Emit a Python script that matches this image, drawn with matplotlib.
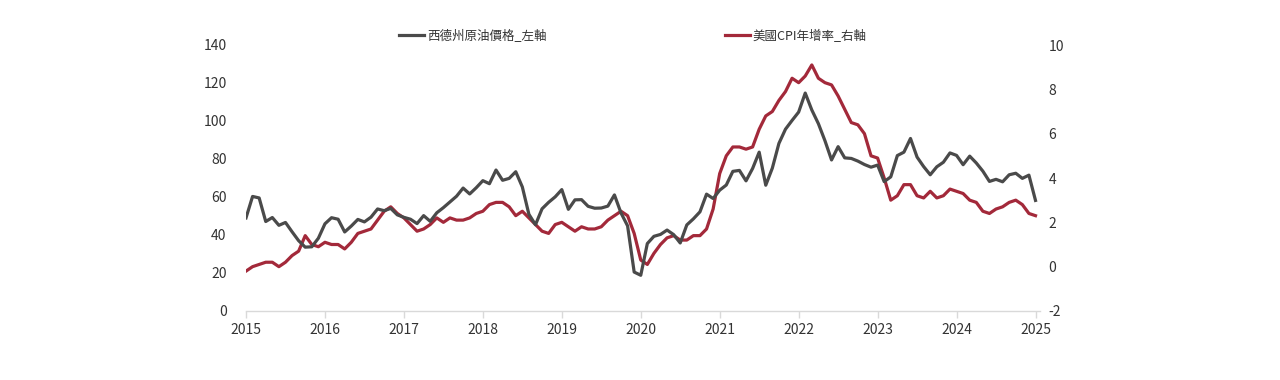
import matplotlib
matplotlib.use("Agg")
import matplotlib.pyplot as plt
import numpy as np

plt.rcParams['font.family'] = ['Noto Sans CJK TC', 'DejaVu Sans']
plt.rcParams['axes.unicode_minus'] = False

# monthly data, Apr 2015 - Apr 2025
wti = [49.0, 60.3, 59.5, 47.1, 49.2, 45.1, 46.6, 41.7, 37.0,
       33.6, 33.8, 38.3, 45.9, 49.1, 48.3, 41.6, 44.7, 48.2, 46.9, 49.4, 53.7,
       52.8, 54.0, 50.6, 49.3, 48.3, 46.0, 50.2, 47.2, 51.7, 54.4, 57.4, 60.4,
       64.7, 61.6, 64.9, 68.6, 67.0, 74.2, 68.8, 69.8, 73.3, 65.3, 50.9, 45.4,
       53.8, 57.2, 60.1, 63.9, 53.5, 58.5, 58.6, 55.1, 54.1, 54.2, 55.2, 61.1,
       51.6, 44.8, 20.5, 18.8, 35.5, 39.3, 40.3, 42.6, 40.2, 35.8, 45.3, 48.5,
       52.2, 61.5, 59.2, 63.6, 66.3, 73.5, 74.0, 68.5, 75.0, 83.6, 66.2, 75.2,
       88.2, 95.7, 100.3, 104.7, 114.7, 105.8, 98.6, 89.6, 79.5, 86.5, 80.6, 80.3,
       78.9, 77.1, 75.7, 76.8, 68.1, 70.6, 81.8, 83.6, 90.8, 81.0, 76.0, 71.7,
       75.9, 78.3, 83.2, 81.9, 77.0, 81.5, 77.9, 73.6, 68.2, 69.3, 68.0, 71.7,
       72.5, 69.8, 71.5, 58.2]

cpi = [-0.2, 0.0, 0.1, 0.2, 0.2, 0.0, 0.2, 0.5, 0.7,
       1.4, 1.0, 0.9, 1.1, 1.0, 1.0, 0.8, 1.1, 1.5, 1.6, 1.7, 2.1,
       2.5, 2.7, 2.4, 2.2, 1.9, 1.6, 1.7, 1.9, 2.2, 2.0, 2.2, 2.1,
       2.1, 2.2, 2.4, 2.5, 2.8, 2.9, 2.9, 2.7, 2.3, 2.5, 2.2, 1.9,
       1.6, 1.5, 1.9, 2.0, 1.8, 1.6, 1.8, 1.7, 1.7, 1.8, 2.1, 2.3,
       2.5, 2.3, 1.5, 0.3, 0.1, 0.6, 1.0, 1.3, 1.4, 1.2, 1.2, 1.4,
       1.4, 1.7, 2.6, 4.2, 5.0, 5.4, 5.4, 5.3, 5.4, 6.2, 6.8, 7.0,
       7.5, 7.9, 8.5, 8.3, 8.6, 9.1, 8.5, 8.3, 8.2, 7.7, 7.1, 6.5,
       6.4, 6.0, 5.0, 4.9, 4.0, 3.0, 3.2, 3.7, 3.7, 3.2, 3.1, 3.4,
       3.1, 3.2, 3.5, 3.4, 3.3, 3.0, 2.9, 2.5, 2.4, 2.6, 2.7, 2.9,
       3.0, 2.8, 2.4, 2.3]

year_labels = ['2015', '2016', '2017', '2018', '2019', '2020',
               '2021', '2022', '2023', '2024', '2025']
wti_label = '西德州原油價格_左軸'
cpi_label = '美國CPI年增率_右軸'

months = np.arange(len(wti))
gray = '#4a4a4a'
red = '#a3293a'
txt = '#333333'
axis_col = '#d9d9d9'

fig = plt.figure(figsize=(12.8, 3.8), dpi=100)
ax = fig.add_axes([246 / 1280, 69 / 380, 794 / 1280, 266 / 380])
ax2 = ax.twinx()

l1, = ax.plot(months, wti, color=gray, lw=2.3, label=wti_label, zorder=3)
l2, = ax2.plot(months, cpi, color=red, lw=2.3, label=cpi_label, zorder=3)

ax.set_xlim(0, 120 * 794 / 789.5)
ax.set_ylim(0, 140)
ax.set_yticks(range(0, 141, 20))
ax2.set_ylim(-2, 10)
ax2.set_yticks(range(-2, 11, 2))

ax.set_xticks(np.arange(0, 121, 12))
ax.set_xticklabels(year_labels)

for a in (ax, ax2):
    for s in a.spines.values():
        s.set_visible(False)
ax.spines['bottom'].set_visible(True)
ax.spines['bottom'].set_color(axis_col)
ax.spines['bottom'].set_linewidth(1.0)

ax.tick_params(axis='x', colors=axis_col, length=5, width=1, labelcolor=txt,
               labelsize=10, pad=4)
ax.tick_params(axis='y', length=0, labelcolor=txt, labelsize=10, pad=14)
ax2.tick_params(axis='y', length=0, labelcolor=txt, labelsize=10, pad=6)

ax.set_zorder(ax2.get_zorder() + 1)
ax.patch.set_visible(False)

fig.legend(handles=[l1, l2], loc='center', bbox_to_anchor=(633 / 1280, 1 - 36 / 380),
           ncol=2, frameon=False, fontsize=9, handlelength=2.0, handletextpad=0.2,
           columnspacing=14.3, labelcolor=txt)

fig.savefig('out.png', dpi=100)
